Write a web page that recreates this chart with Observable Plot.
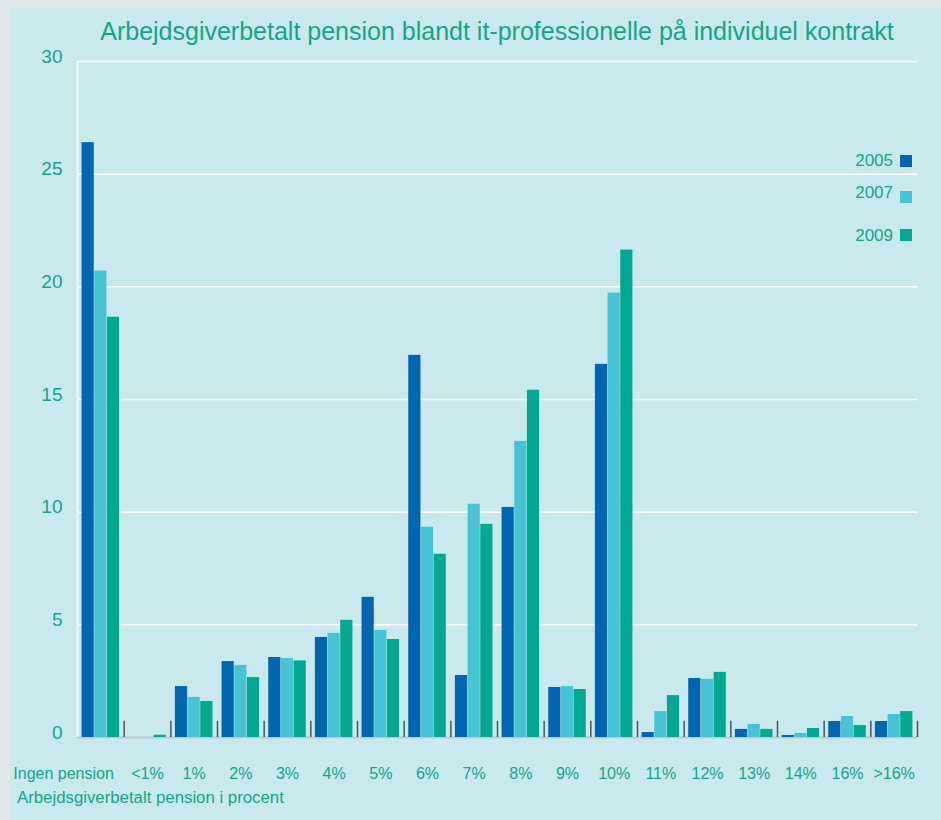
<!DOCTYPE html>
<html>
<head>
<meta charset="utf-8">
<script src="https://cdn.jsdelivr.net/npm/d3@7"></script>
<script src="https://cdn.jsdelivr.net/npm/@observablehq/plot@0.6"></script>
<style>
  html, body { margin: 0; padding: 0; background: #dfe8ea; }
  #wrap { position: relative; width: 941px; height: 820px; overflow: hidden; font-family: "Liberation Sans", Arial, sans-serif; }
  #panel { position: absolute; left: 10px; top: 8px; right: 0; bottom: 0; background: #cae9ec; }
  #title { position: absolute; left: 0; width: 994px; top: 17px; text-align: center; font-size: 25px; color: #12a68a; white-space: nowrap; }
  #caption { position: absolute; left: 17px; top: 788px; font-size: 16.8px; color: #12a68a; white-space: nowrap; }
  #chart { position: absolute; left: 0; top: 0; width: 941px; }
  .leg { position: absolute; font-size: 17px; color: #12a68a; }
  .leg span.t { position: absolute; right: 48px; white-space: nowrap; }
  .sw { position: absolute; width: 12px; height: 12px; }
</style>
</head>
<body>
<div id="wrap">
  <div id="panel"></div>
  <div id="chart"></div>
  <div id="title"></div>
  <div id="caption"></div>
  <div id="legend"></div>
</div>
<script>
const titleText = "Arbejdsgiverbetalt pension blandt it-professionelle på individuel kontrakt";
const captionText = "Arbejdsgiverbetalt pension i procent";
const categories = ["Ingen pension","<1%","1%","2%","3%","4%","5%","6%","7%","8%","9%","10%","11%","12%","13%","14%","16%",">16%"];
const years = ["2005","2007","2009"];
const colors = ["#0066b0","#47c3d3","#00a98f"];
const v2005 = [26.4,0,2.26,3.37,3.55,4.44,6.22,16.96,2.75,10.21,2.22,16.56,0.22,2.62,0.36,0.09,0.71,0.71];
const v2007 = [20.7,0,1.78,3.2,3.5,4.62,4.75,9.33,10.35,13.14,2.26,19.72,1.15,2.58,0.58,0.18,0.93,1.02];
const v2009 = [18.65,0.1,1.6,2.66,3.4,5.2,4.35,8.13,9.46,15.41,2.13,21.63,1.86,2.89,0.36,0.4,0.53,1.15];
const yTicks = [0,5,10,15,20,25,30];

const series = [v2005, v2007, v2009];
const data = [];
years.forEach((yr, i) => categories.forEach((c, j) => data.push({cat: c, year: yr, value: series[i][j]})));

const W = 941, H = 820, mL = 77, mR = 24, mT = 61, mB = 83;
const bw = (W - mL - mR) / categories.length;
const sub = d3.scaleBand(years, [0, bw]).paddingInner(0.04).paddingOuter(0.36);
const textColor = "#12a68a";

const barMarks = years.map((yr, i) => Plot.barY(data.filter(d => d.year === yr), {
  x: "cat", y: "value", fill: colors[i],
  insetLeft: sub(yr), insetRight: bw - sub(yr) - sub.bandwidth()
}));

const chart = Plot.plot({
  width: W, height: H,
  marginLeft: mL, marginRight: mR, marginTop: mT, marginBottom: mB,
  style: {background: "transparent", fontFamily: "Liberation Sans, Arial, sans-serif", overflow: "visible"},
  x: {domain: categories, padding: 0, round: false, axis: null},
  y: {domain: [0, 30], axis: null},
  marks: [
    Plot.ruleY(yTicks.filter(t => t > 0), {stroke: "white", strokeWidth: 1.5}),
    Plot.ruleX([categories[0]], {dx: -bw / 2, y1: 0, y2: 30, stroke: "white", strokeWidth: 1.5}),
    Plot.ruleY([0], {stroke: "#b9cdd0", strokeWidth: 2}),
    ...barMarks,
    Plot.ruleX(categories, {x: d => d, dx: bw / 2, y1: 0, y2: 0.72, stroke: "#4a5556", strokeWidth: 1.5}),
    Plot.text(yTicks, {x: () => categories[0], y: d => d, text: d => String(d), dx: -bw / 2 - 15, dy: -5, textAnchor: "end", fontSize: 19, fill: textColor}),
    Plot.text(categories.slice(0, 1), {x: d => d, y: () => 0, text: d => d, dx: 13, dy: 36, textAnchor: "end", fontSize: 16, fill: textColor}),
    Plot.text(categories.slice(1), {x: d => d, y: () => 0, text: d => d, dy: 36, fontSize: 16, fill: textColor})
  ]
});
document.getElementById("chart").appendChild(chart);
document.getElementById("title").textContent = titleText;
document.getElementById("caption").textContent = captionText;

const legendPos = [161, 193, 236];
const swPos = [155, 191, 229];
const leg = document.getElementById("legend");
years.forEach((yr, i) => {
  const t = document.createElement("div");
  t.className = "leg";
  t.style.left = "0px"; t.style.width = "941px";
  t.style.top = (legendPos[i] - 10) + "px";
  t.innerHTML = `<span class="t">${yr}</span>`;
  leg.appendChild(t);
  const s = document.createElement("div");
  s.className = "sw";
  s.style.left = "900px"; s.style.top = swPos[i] + "px";
  s.style.background = colors[i];
  leg.appendChild(s);
});
</script>
</body>
</html>
